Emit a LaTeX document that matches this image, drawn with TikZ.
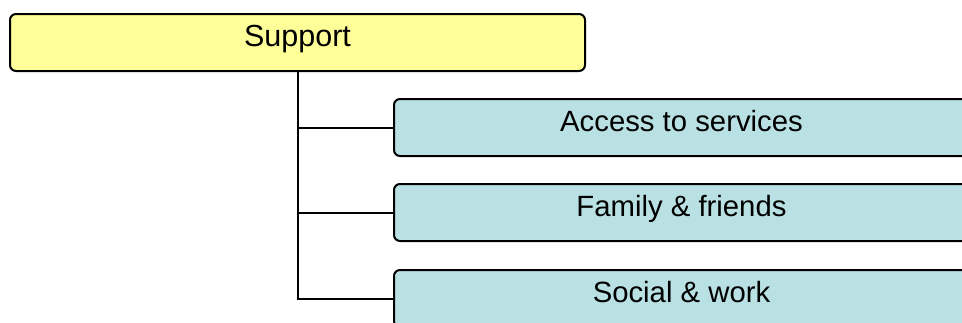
\documentclass[tikz,border=0pt]{standalone}
\usepackage{fontspec}
\setmainfont{Liberation Sans}
\definecolor{suppyellow}{RGB}{255,255,153}
\definecolor{itemcyan}{RGB}{185,224,227}
\tikzset{
  topbox/.style={draw, line width=2pt, rounded corners=6pt, fill=suppyellow,
    minimum width=575pt, inner xsep=0pt, inner ysep=0pt,
    text height=32.7pt, text depth=24.3pt,
    font=\fontsize{30.5}{31}\selectfont},
  itembox/.style={topbox, fill=itemcyan, text height=32pt, text depth=25pt,
    font=\fontsize{29.3}{30}\selectfont},
  link/.style={line width=2pt}
}
\begin{document}
\begin{tikzpicture}[x=1pt, y=-1pt]
    \useasboundingbox (0,0) rectangle (962,322);
    \clip (0,0) rectangle (962,322);

    \node[topbox] (sup) at (297.5, 42.5) {Support};
    \node[itembox] (acc) at (681.5, 127.5) {Access to services};
    \node[itembox] (fam) at (681.5, 212.5) {Family \& friends};
    \node[itembox] (soc) at (681.5, 298.5) {Social \& work};

    \draw[link] (sup.south) |- (acc.west);
    \draw[link] (sup.south) |- (fam.west);
    \draw[link] (sup.south) |- (soc.west);
\end{tikzpicture}
\end{document}
